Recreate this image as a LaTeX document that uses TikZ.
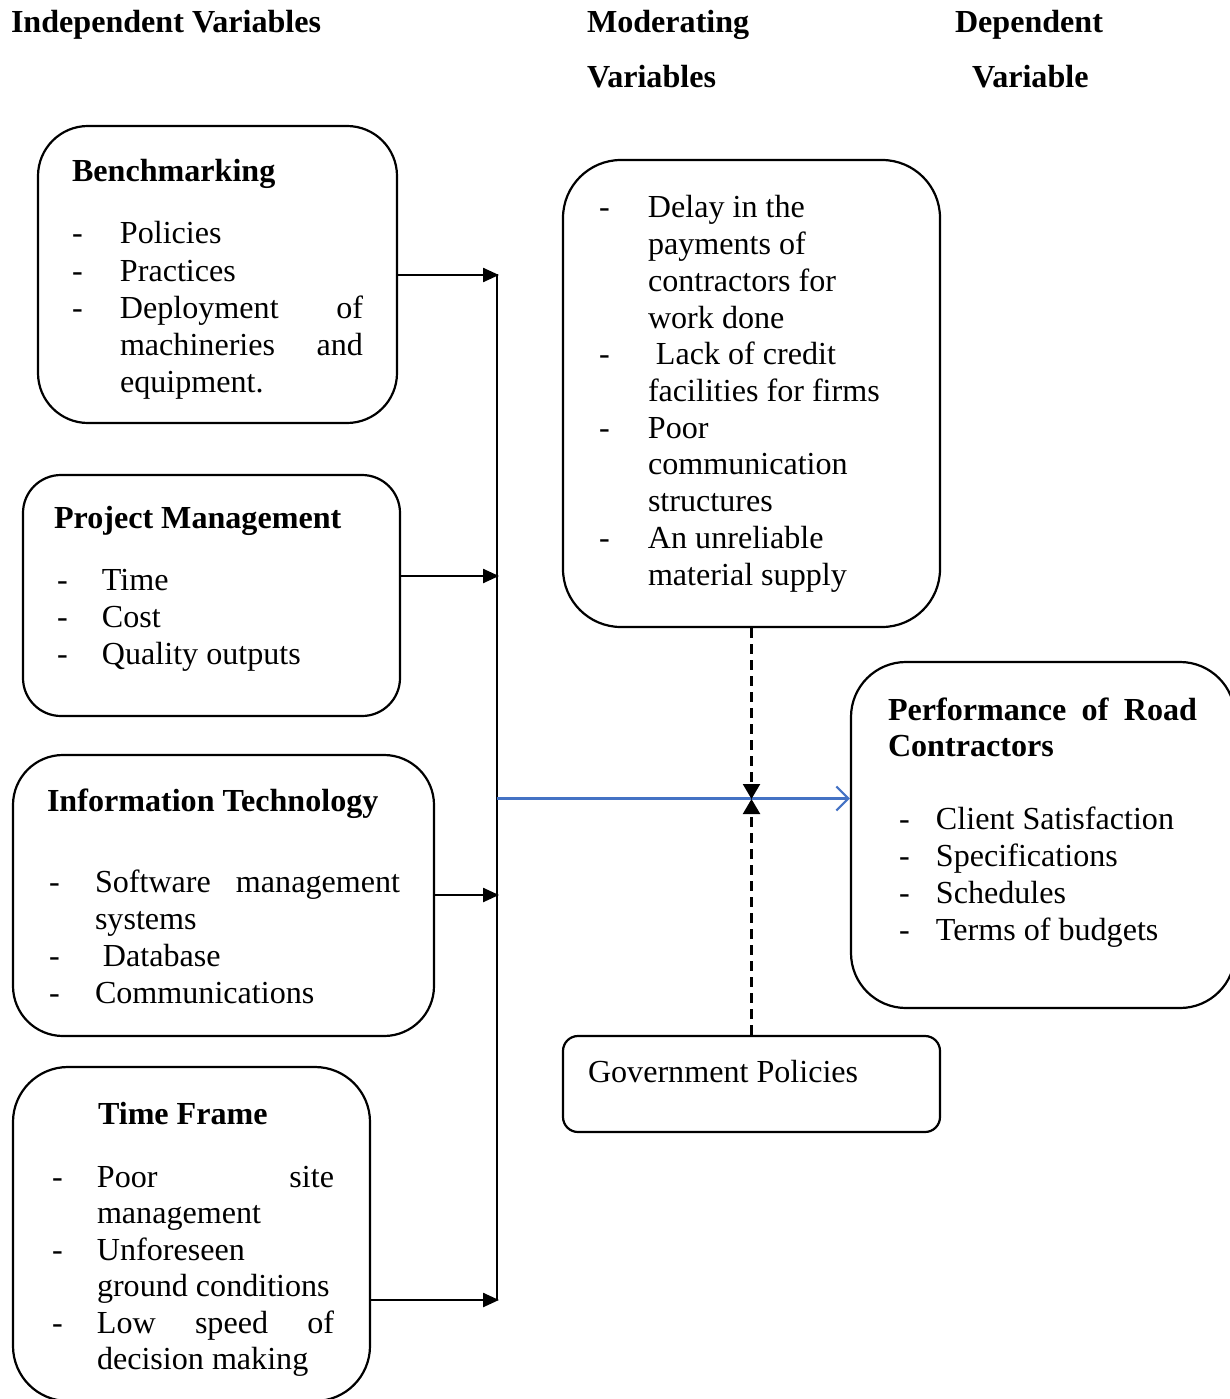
\documentclass[tikz,border=0pt]{standalone}
\usepackage{fontspec}
\setmainfont{Liberation Serif}
\usetikzlibrary{arrows.meta}
\definecolor{arrowblue}{RGB}{68,114,196}
\newcommand\blist[3]{{\fontsize{32.1bp}{#2}\selectfont\begin{tabular}[t]{@{}p{#1}@{}l@{}}#3\end{tabular}}}
\begin{document}
\begin{tikzpicture}[x=1bp,y=-1bp,
  box/.style={draw,line width=2.2bp,rounded corners=#1,inner sep=0pt},
  txt/.style={anchor=base west,inner sep=0pt,outer sep=0pt,yshift=-2bp,font=\fontsize{32.1bp}{37bp}\selectfont},
  hdr/.style={anchor=base west,inner sep=0pt,outer sep=0pt,yshift=-2bp,font=\fontsize{32.1bp}{37bp}\selectfont\bfseries},
  conn/.style={line width=2.4bp,-{Triangle[length=16bp,width=14bp]}},
  blueconn/.style={line width=2.4bp,draw=arrowblue,-{Straight Barb[length=12bp,width=24bp,line width=2.2bp]}},
  dconn/.style={line width=2.2bp,dash pattern=on 10bp off 6bp,-{Triangle[length=15bp,width=17bp]}}]
\useasboundingbox (0,0) rectangle (1229,1399);
% headers
\node[hdr] (h1) at (11,31) {Independent Variables};
\node[hdr] (h2) at (587,31) {Moderating};
\node[hdr] (h3) at (587,86) {Variables};
\node[hdr] (h4) at (955,31) {Dependent};
\node[hdr] (h5) at (972,86) {Variable};
% Benchmarking
\node[box=50bp,minimum width=359bp,minimum height=297bp] (bench) at (217.5,274.5) {};
\node[hdr] (benchT) at (72,180) {Benchmarking};
\node[txt] (benchL) at (72,242) {\blist{48bp}{37bp}{- & Policies\\ - & Practices\\ - & \makebox[243bp][l]{Deployment\hfill of}\\ & \makebox[243bp][l]{machineries\hfill and}\\ & equipment.}};
% Project Management
\node[box=38bp,minimum width=377bp,minimum height=241bp] (pm) at (211.5,595.5) {};
\node[hdr] (pmT) at (54,526) {Project Management};
\node[txt] (pmL) at (57,588) {\blist{45bp}{37bp}{- & Time\\ - & Cost\\ - & Quality outputs}};
% Information Technology
\node[box=50bp,minimum width=421bp,minimum height=281bp] (it) at (223.5,895.5) {};
\node[hdr] (itT) at (47,809) {Information Technology};
\node[txt] (itL) at (49,890) {\blist{46bp}{37bp}{- & \makebox[305bp][l]{Software\hfill management}\\ & systems\\ - & \hspace{8bp}Database\\ - & Communications}};
% Time Frame
\node[box=55bp,minimum width=357bp,minimum height=334bp] (tf) at (191.5,1234) {};
\node[hdr] (tfT) at (98,1122) {Time Frame};
\node[txt] (tfL) at (52,1185) {\blist{45bp}{36.5bp}{- & \makebox[237bp][l]{Poor\hfill site}\\ & management\\ - & Unforeseen\\ & ground conditions\\ - & \makebox[237bp][l]{Low\hfill speed\hfill of}\\ & decision making}};
% Moderating
\node[box=58bp,minimum width=377bp,minimum height=467bp] (mod) at (751.5,393.5) {};
\node[txt] (modL) at (599,216) {\blist{49bp}{36.7bp}{- & Delay in the\\ & payments of\\ & contractors for\\ & work done\\ - & \hspace{8bp}Lack of credit\\ & facilities for firms\\ - & Poor\\ & communication\\ & structures\\ - & An unreliable\\ & material supply}};
% Performance
\node[box=55bp,minimum width=384bp,minimum height=346bp] (perf) at (1043,835) {};
\node[hdr] (perfT1) at (888,718) {\makebox[309bp][l]{Performance\hfill of\hfill Road}};
\node[hdr] (perfT2) at (888,754) {Contractors};
\node[txt] (perfL) at (899,827) {\blist{37bp}{37bp}{- & Client Satisfaction\\ - & Specifications\\ - & Schedules\\ - & Terms of budgets}};
% Government Policies
\node[box=15bp,minimum width=377bp,minimum height=96bp] (gov) at (751.5,1084) {};
\node[txt] (govT) at (588,1080) {Government Policies};
% connectors
\coordinate (vt) at (497,274);
\coordinate (vb) at (497,1300);
\draw[line width=2.4bp] (vt) -- (vb);
\coordinate (j1) at (499,275);
\coordinate (j2) at (499,576);
\coordinate (j3) at (499,895);
\coordinate (j4) at (499,1300);
\draw[conn] (bench.east |- j1) -- (j1);
\draw[conn] (pm.east |- j2) -- (j2);
\draw[conn] (it.east |- j3) -- (j3);
\draw[conn] (tf.east |- j4) -- (j4);
\coordinate (b0) at (497,798.5);
\draw[blueconn] (b0) -- (b0 -| perf.west);
\coordinate (jc) at (751.5,799);
\draw[dconn] (mod.south) -- (jc);
\draw[dconn] (gov.north) -- (jc);
\end{tikzpicture}
\end{document}
